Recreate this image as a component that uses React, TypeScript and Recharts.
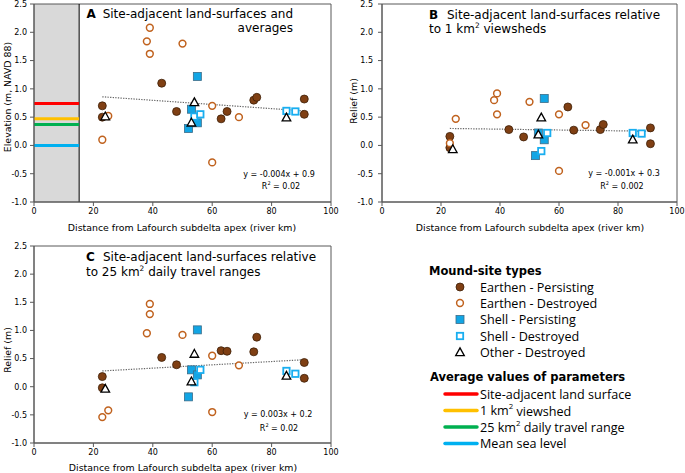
import React from 'react';
import {
  ScatterChart,
  Scatter,
  XAxis,
  YAxis,
  ReferenceArea,
  ReferenceLine
} from 'recharts';

// distance from the Lafourche subdelta apex (river km) for each mound-site type
const distEarthenPersisting = [23, 23, 43, 48, 63, 65, 74, 75, 91, 91];
const distEarthenDestroyed = [23, 25, 38, 39, 39, 50, 60, 60, 69];
const distShellPersisting = [52, 53, 55, 55];
const distShellDestroyed = [54, 56, 85, 88];
const distOtherDestroyed = [24, 53, 54, 85];

// A: site-adjacent elevation (m, NAVD 88)
const elevEarthenPersisting = [0.7, 0.5, 1.1, 0.6, 0.47, 0.6, 0.8, 0.85, 0.82, 0.55];
const elevEarthenDestroyed = [0.1, 0.52, 1.84, 2.08, 1.62, 1.8, 0.7, -0.3, 0.5];
const elevShellPersisting = [0.3, 0.64, 1.22, 0.4];
const elevShellDestroyed = [0.51, 0.55, 0.61, 0.6];
const elevOtherDestroyed = [0.51, 0.4, 0.76, 0.49];

// B: relief relative to 1 km2 viewshed (m)
const viewEarthenPersisting = [0.16, -0.04, 0.28, 0.15, 0.68, 0.27, 0.28, 0.37, 0.31, 0.03];
const viewEarthenDestroyed = [0.04, 0.47, 0.8, 0.92, 0.55, 0.77, 0.55, -0.45, 0.36];
const viewShellPersisting = [-0.18, 0.22, 0.83, 0.1];
const viewShellDestroyed = [-0.1, 0.22, 0.22, 0.21];
const viewOtherDestroyed = [-0.07, 0.19, 0.49, 0.1];

// C: relief relative to 25 km2 daily travel range (m)
const travelEarthenPersisting = [0.18, -0.02, 0.52, 0.39, 0.64, 0.63, 0.62, 0.88, 0.43, 0.15];
const travelEarthenDestroyed = [-0.54, -0.42, 0.95, 1.47, 1.29, 0.92, 0.55, -0.45, 0.38];
const travelShellPersisting = [-0.18, 0.3, 1.01, 0.21];
const travelShellDestroyed = [0.08, 0.3, 0.28, 0.23];
const travelOtherDestroyed = [-0.04, 0.09, 0.58, 0.19];

// linear trend end points
const trendX = [23, 91];
const trendA = [0.86, 0.61];
const trendB = [0.3, 0.25];
const trendC = [0.28, 0.48];

// averages shown in the grey strip of panel A
const shadedUntilKm = 15.2;
const averageNames = ['Site-adjacent land surface', '1 km2 viewshed', '25 km2 daily travel range', 'Mean sea level'];
const averageLevels = [0.74, 0.47, 0.37, 0.0];
const averageColors = ['#ff0000', '#ffc000', '#00b050', '#00b0f0'];

const xTicks = [0, 20, 40, 60, 80, 100];
const yTicks = [-1, -0.5, 0, 0.5, 1, 1.5, 2, 2.5];

const FONT = '"DejaVu Sans", Verdana, sans-serif';
const AXIS = '#595959';

const toPoints = (xs: number[], ys: number[]) => xs.map((x, i) => ({ x, y: ys[i] }));

const EarthenPersisting = (p: any) => (
  <circle cx={p.cx} cy={p.cy} r={4} fill="#7f3f13" stroke="#3d1f08" strokeWidth={0.8} />
);
const EarthenDestroyed = (p: any) => (
  <circle cx={p.cx} cy={p.cy} r={3.4} fill="#fff" stroke="#c0621e" strokeWidth={1.5} />
);
const ShellPersisting = (p: any) => (
  <rect x={p.cx - 4} y={p.cy - 4} width={8} height={8} fill="#12a5e4" stroke="#3b6c88" strokeWidth={0.8} />
);
const ShellDestroyed = (p: any) => (
  <rect x={p.cx - 3.2} y={p.cy - 3.2} width={6.4} height={6.4} fill="#fff" stroke="#19aef0" strokeWidth={1.8} />
);
const OtherDestroyed = (p: any) => (
  <path
    d={`M${p.cx},${p.cy - 4.6}L${p.cx + 4.3},${p.cy + 3.2}L${p.cx - 4.3},${p.cy + 3.2}Z`}
    fill="#fff"
    stroke="#000"
    strokeWidth={1.3}
  />
);
const NoDot = () => <g />;

interface PanelProps {
  left: number;
  top: number;
  width: number;
  height: number;
  margin: { top: number; right: number; bottom: number; left: number };
  yAxisWidth: number;
  yTickMargin: number;
  values: number[][];
  trend: number[];
  shaded?: boolean;
}

function Panel({ left, top, width, height, margin, yAxisWidth, yTickMargin, values, trend, shaded }: PanelProps) {
  const [ep, ed, sp, sd, od] = values;
  return (
    <div style={{ position: 'absolute', left, top }}>
      <ScatterChart width={width} height={height} margin={margin}>
        <XAxis
          dataKey="x"
          type="number"
          domain={[0, 100]}
          ticks={xTicks}
          height={30}
          stroke={AXIS}
          tickSize={4}
          tickMargin={2}
          tick={{ fill: '#000', fontSize: 8, fontFamily: FONT }}
          allowDataOverflow
        />
        <YAxis
          dataKey="y"
          type="number"
          domain={[-1, 2.5]}
          ticks={yTicks}
          width={yAxisWidth}
          stroke={AXIS}
          tickSize={4}
          tickMargin={yTickMargin}
          tick={{ fill: '#000', fontSize: 8, fontFamily: FONT }}
          tickFormatter={(v: number) => v.toFixed(1)}
          allowDataOverflow
        />
        {shaded && (
          <ReferenceArea x1={0} x2={shadedUntilKm} y1={-1} y2={2.5} fill="#d9d9d9" fillOpacity={1} stroke="none" />
        )}
        {shaded && <ReferenceLine x={shadedUntilKm} stroke="#000" strokeWidth={1} />}
        {shaded &&
          averageLevels.map((lv, i) => (
            <ReferenceLine
              key={averageNames[i]}
              segment={[{ x: 0, y: lv }, { x: shadedUntilKm, y: lv }]}
              stroke={averageColors[i]}
              strokeWidth={3}
            />
          ))}
        <ReferenceArea x1={0} x2={100} y1={-1} y2={2.5} fill="none" stroke={AXIS} strokeWidth={1} />
        <Scatter data={toPoints(trendX, trend)} shape={NoDot} line={{ stroke: '#666', strokeWidth: 1.2, strokeDasharray: '1.3 1.3' }} isAnimationActive={false} />
        <Scatter data={toPoints(distEarthenPersisting, ep)} shape={EarthenPersisting} isAnimationActive={false} />
        <Scatter data={toPoints(distEarthenDestroyed, ed)} shape={EarthenDestroyed} isAnimationActive={false} />
        <Scatter data={toPoints(distShellPersisting, sp)} shape={ShellPersisting} isAnimationActive={false} />
        <Scatter data={toPoints(distShellDestroyed, sd)} shape={ShellDestroyed} isAnimationActive={false} />
        <Scatter data={toPoints(distOtherDestroyed, od)} shape={OtherDestroyed} isAnimationActive={false} />
      </ScatterChart>
    </div>
  );
}

// text with a superscript "2" in the middle, e.g. km² / R²
const SupText = ({ before, after, size }: { before: string; after: string; size: number }) => (
  <>
    {before}
    <tspan dy={-size * 0.32} fontSize={size * 0.62}>2</tspan>
    <tspan dy={size * 0.32}>{after}</tspan>
  </>
);

const xTitle = 'Distance from Lafourch subdelta apex (river km)';

function Labels() {
  const t = { fontFamily: FONT, fill: '#000', dominantBaseline: 'central' as const };
  const lg = { fontFamily: '"Open Sans", sans-serif', fontSize: 12.6, fill: '#000', dominantBaseline: 'central' as const };
  const markerRows = [287, 303, 319.5, 336, 352.5];
  const markers = [EarthenPersisting, EarthenDestroyed, ShellPersisting, ShellDestroyed, OtherDestroyed];
  const markerNames = ['Earthen - Persisting', 'Earthen - Destroyed', 'Shell - Persisting', 'Shell - Destroyed', 'Other - Destroyed'];
  const lineRows = [394, 410.5, 427, 443.5];
  return (
    <svg width={685} height={473} style={{ position: 'absolute', left: 0, top: 0, pointerEvents: 'none' }}>
      {/* panel titles */}
      <text {...t} fontSize={12} x={293} y={14} textAnchor="end">
        <tspan fontWeight="bold">A</tspan>
        <tspan dx={3}> Site-adjacent land-surfaces and</tspan>
      </text>
      <text {...t} fontSize={12} x={293} y={28} textAnchor="end">averages</text>

      <text {...t} fontSize={12} x={429} y={14.5} fontWeight="bold">B</text>
      <text {...t} fontSize={12} x={447} y={14.5}>Site-adjacent land-surfaces relative</text>
      <text {...t} fontSize={12} x={429} y={29}>
        <SupText before="to 1 km" after=" viewsheds" size={12} />
      </text>

      <text {...t} fontSize={12} x={86} y={257} fontWeight="bold">C</text>
      <text {...t} fontSize={12} x={103} y={257}>Site-adjacent land-surfaces relative</text>
      <text {...t} fontSize={12} x={86} y={272}>
        <SupText before="to 25 km" after=" daily travel ranges" size={12} />
      </text>

      {/* axis titles */}
      <text {...t} fontSize={9.4} x={182} y={227} textAnchor="middle">{xTitle}</text>
      <text {...t} fontSize={9.4} x={530} y={227} textAnchor="middle">{xTitle}</text>
      <text {...t} fontSize={9.4} x={183} y={467} textAnchor="middle">{xTitle}</text>
      <text {...t} fontSize={9.4} x={0} y={0} textAnchor="middle" transform="translate(7,97) rotate(-90)">Elevation (m, NAVD 88)</text>
      <text {...t} fontSize={9.4} x={0} y={0} textAnchor="middle" transform="translate(353,101) rotate(-90)">Relief (m)</text>
      <text {...t} fontSize={9.4} x={0} y={0} textAnchor="middle" transform="translate(7,350) rotate(-90)">Relief (m)</text>

      {/* regression equations */}
      <text {...t} fontSize={8} x={279} y={174} textAnchor="middle">y = -0.004x + 0.9</text>
      <text {...t} fontSize={8} x={281} y={186} textAnchor="middle"><SupText before="R" after=" = 0.02" size={8} /></text>
      <text {...t} fontSize={8} x={624} y={173} textAnchor="middle">y = -0.001x + 0.3</text>
      <text {...t} fontSize={8} x={622} y={186} textAnchor="middle"><SupText before="R" after=" = 0.002" size={8} /></text>
      <text {...t} fontSize={8} x={278} y={414} textAnchor="middle">y = 0.003x + 0.2</text>
      <text {...t} fontSize={8} x={279} y={428} textAnchor="middle"><SupText before="R" after=" = 0.02" size={8} /></text>

      {/* legend */}
      <text {...t} fontSize={11.5} fontWeight="bold" x={429} y={271}>Mound-site types</text>
      {markers.map((M, i) => (
        <g key={markerNames[i]}>
          <M cx={460} cy={markerRows[i]} />
          <text {...lg} x={480} y={markerRows[i]}>{markerNames[i]}</text>
        </g>
      ))}
      <text {...t} fontSize={11.5} fontWeight="bold" x={430} y={377}>Average values of parameters</text>
      {averageNames.map((name, i) => (
        <g key={name}>
          <line x1={445} x2={477} y1={lineRows[i]} y2={lineRows[i]} stroke={averageColors[i]} strokeWidth={3.5} strokeLinecap="round" />
          <text {...lg} x={480} y={lineRows[i]}>
            {i === 1 ? (
              <SupText before="1 km" after=" viewshed" size={12.6} />
            ) : i === 2 ? (
              <SupText before="25 km" after=" daily travel range" size={12.6} />
            ) : (
              name
            )}
          </text>
        </g>
      ))}
    </svg>
  );
}

export default function App() {
  return (
    <div style={{ position: 'absolute', left: 0, top: 0, width: 685, height: 473, background: '#fff', overflow: 'hidden' }}>
      <Panel
        left={0}
        top={0}
        width={340}
        height={232}
        margin={{ top: 4, right: 9, bottom: 0, left: 0 }}
        yAxisWidth={34}
        yTickMargin={3}
        values={[elevEarthenPersisting, elevEarthenDestroyed, elevShellPersisting, elevShellDestroyed, elevOtherDestroyed]}
        trend={trendA}
        shaded
      />
      <Panel
        left={340}
        top={0}
        width={345}
        height={232}
        margin={{ top: 4, right: 8, bottom: 0, left: 0 }}
        yAxisWidth={42}
        yTickMargin={5}
        values={[viewEarthenPersisting, viewEarthenDestroyed, viewShellPersisting, viewShellDestroyed, viewOtherDestroyed]}
        trend={trendB}
      />
      <Panel
        left={0}
        top={230}
        width={340}
        height={243}
        margin={{ top: 16, right: 9, bottom: 0, left: 0 }}
        yAxisWidth={34}
        yTickMargin={3}
        values={[travelEarthenPersisting, travelEarthenDestroyed, travelShellPersisting, travelShellDestroyed, travelOtherDestroyed]}
        trend={trendC}
      />
      <Labels />
    </div>
  );
}
